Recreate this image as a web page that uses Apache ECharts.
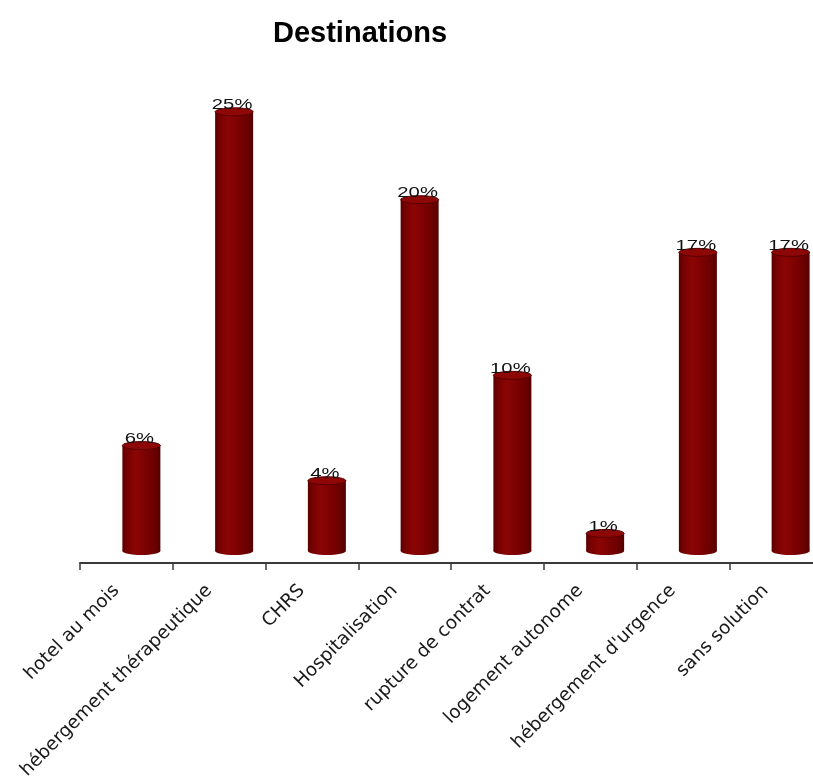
<!DOCTYPE html>
<html>
<head>
<meta charset="utf-8">
<style>
  html, body { margin: 0; padding: 0; background: #fff; }
  #chart { width: 813px; height: 778px; }
</style>
<script src="https://cdn.jsdelivr.net/npm/echarts@6/dist/echarts.min.js"></script>
</head>
<body>
<div id="chart"></div>
<script>
// Destinations of the people followed (share of exits, in %)
const categories = [
  'hotel au mois',
  'hébergement thérapeutique',
  'CHRS',
  'Hospitalisation',
  'rupture de contrat',
  'logement autonome',
  "hébergement d'urgence",
  'sans solution'
];
const shares = [6, 25, 4, 20, 10, 1, 17, 17];
const chartTitle = 'Destinations';

// cylinder look
const BAR_WIDTH = 38;
const BAR_SHIFT = 15;   // the 3D bars sit slightly right of their slot
const CAP_RY = 4;

function renderCylinder(params, api) {
  const idx = api.value(0);
  const v = api.value(1);
  const base = api.coord([idx, 0]);
  const top = api.coord([idx, v]);
  const cx = base[0] + BAR_SHIFT;
  const half = BAR_WIDTH / 2;
  const bodyFill = new echarts.graphic.LinearGradient(0, 0, 1, 0, [
    { offset: 0, color: '#5a0000' },
    { offset: 0.12, color: '#760101' },
    { offset: 0.35, color: '#8c0505' },
    { offset: 0.65, color: '#790101' },
    { offset: 0.9, color: '#660000' },
    { offset: 1, color: '#500000' }
  ]);
  return {
    type: 'group',
    children: [
      {
        type: 'ellipse',
        shape: { cx: cx, cy: base[1], rx: half, ry: CAP_RY },
        style: { fill: bodyFill }
      },
      {
        type: 'rect',
        shape: { x: cx - half, y: top[1], width: BAR_WIDTH, height: base[1] - top[1] },
        style: { fill: bodyFill }
      },
      {
        type: 'ellipse',
        shape: { cx: cx, cy: top[1], rx: half, ry: CAP_RY },
        style: { fill: '#8e0707', stroke: '#560000', lineWidth: 1 }
      },
      {
        type: 'text',
        x: cx - 2,
        y: top[1] + 1,
        scaleX: 1.35,
        style: {
          text: v + '%',
          x: 0,
          y: 0,
          align: 'center',
          verticalAlign: 'bottom',
          fill: '#111',
          font: '15px "Liberation Sans", Arial, sans-serif'
        }
      }
    ]
  };
}

const chart = echarts.init(document.getElementById('chart'), null, { renderer: 'canvas' });
chart.setOption({
  animation: false,
  backgroundColor: '#ffffff',
  title: {
    text: chartTitle,
    left: 273,
    top: 19,
    padding: 0,
    textStyle: {
      fontFamily: '"Liberation Sans", Arial, sans-serif',
      fontWeight: 'bold',
      fontSize: 29,
      color: '#000'
    }
  },
  grid: {
    left: 80, right: -9, top: 24, bottom: 227,
    containLabel: false,
    outerBoundsMode: 'none'
  },
  xAxis: {
    type: 'category',
    data: categories,
    boundaryGap: true,
    offset: 12,
    axisLine: { show: true, onZero: false, lineStyle: { color: '#3a3a3a', width: 2 } },
    axisTick: { show: true, length: 7, lineStyle: { color: '#3a3a3a', width: 1.5 } },
    axisLabel: {
      interval: 0,
      rotate: 45,
      margin: 15,
      padding: [0, 14, 0, 0],
      color: '#1a1a1a',
      fontSize: 18.5,
      fontFamily: '"DejaVu Sans", sans-serif'
    },
    splitLine: { show: false }
  },
  yAxis: {
    type: 'value',
    min: 0,
    max: 30,
    show: false,
    splitLine: { show: false }
  },
  series: [{
    type: 'custom',
    renderItem: renderCylinder,
    data: shares.map((v, i) => [i, v]),
    encode: { x: 0, y: 1 },
    clip: false
  }]
});
</script>
</body>
</html>
